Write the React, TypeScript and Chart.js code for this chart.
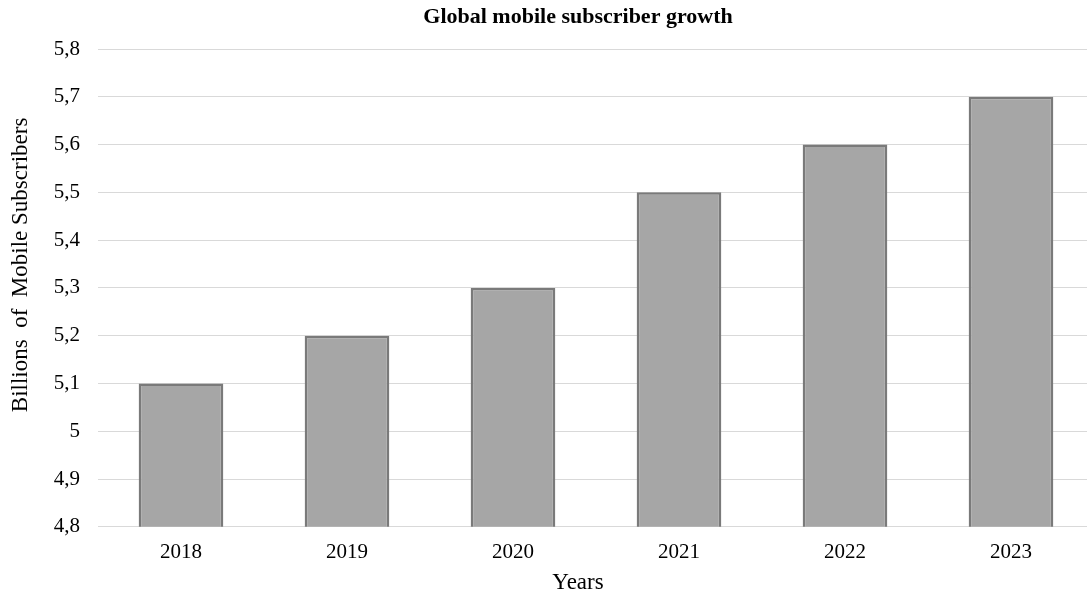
import React, { useEffect, useRef } from "react";
import { Chart, registerables } from "chart.js";

Chart.register(...registerables);

const categories = ["2018", "2019", "2020", "2021", "2022", "2023"];
const subscribers = [5.1, 5.2, 5.3, 5.5, 5.6, 5.7];
const yMin = 4.8;
const yMax = 5.8;
const yStep = 0.1;
const chartTitle = "Global mobile subscriber growth";
const xTitle = "Years";
const yTitle = "Billions  of  Mobile Subscribers";

const CANVAS_W = 1156;
const CANVAS_H = 595;

export default function App() {
  const ref = useRef<HTMLCanvasElement | null>(null);
  useEffect(() => {
    if (!ref.current) return;
    const font = "'Liberation Serif', 'Times New Roman', serif";
    const chart = new Chart(ref.current, {
      type: "bar",
      data: {
        labels: categories,
        datasets: [
          {
            data: subscribers,
            backgroundColor: "#A6A6A6",
            borderColor: "#7A7A7A",
            borderWidth: 2.5,
            borderSkipped: false,
            categoryPercentage: 0.51,
            barPercentage: 1,
          },
        ],
      },
      options: {
        animation: false,
        responsive: false,
        maintainAspectRatio: false,
        layout: { padding: { left: 0, right: 0, top: 0, bottom: 0 } },
        plugins: {
          legend: { display: false },
          tooltip: { enabled: false },
          title: {
            display: true,
            text: chartTitle,
            color: "#000",
            font: { family: font, size: 22, weight: "bold" },
            padding: { top: 4, bottom: 18.6 },
          },
          subtitle: {
            display: true,
            position: "bottom",
            text: xTitle,
            color: "#000",
            font: { family: font, size: 23, lineHeight: 0.4 },
            padding: { top: 0, bottom: 7 },
          },
        },
        scales: {
          x: {
            grid: { display: false, drawTicks: false },
            border: { display: false },
            ticks: { color: "#000", font: { family: font, size: 21 }, padding: 13.4 },
            title: { display: false },
          },
          y: {
            min: yMin,
            max: yMax,
            grid: { color: "#D9D9D9", lineWidth: 1, drawTicks: false },
            border: { display: false },
            ticks: {
              stepSize: yStep,
              color: "#000",
              font: { family: font, size: 21 },
              padding: 18,
              callback: (v: any) => String(Math.round(Number(v) * 10) / 10).replace(".", ","),
            },
            title: {
              display: true,
              text: "        " + yTitle,
              color: "#000",
              font: { family: font, size: 23 },
              padding: { top: 7, bottom: 16 },
            },
            afterFit: (scale: any) => {
              scale.width = 98;
            },
          },
          y2: {
            position: "right",
            display: true,
            grid: { display: false, drawTicks: false },
            border: { display: false },
            ticks: { display: false },
            afterFit: (scale: any) => {
              scale.width = 62;
            },
          },
        },
      },
    });
    return () => chart.destroy();
  }, []);
  return (
    <div
      style={{
        position: "fixed",
        left: 0,
        top: 0,
        width: 1087,
        height: 595,
        overflow: "hidden",
        background: "#fff",
      }}
    >
      <canvas
        ref={ref}
        width={CANVAS_W}
        height={CANVAS_H}
        style={{ width: CANVAS_W, height: CANVAS_H, display: "block" }}
      />
    </div>
  );
}
